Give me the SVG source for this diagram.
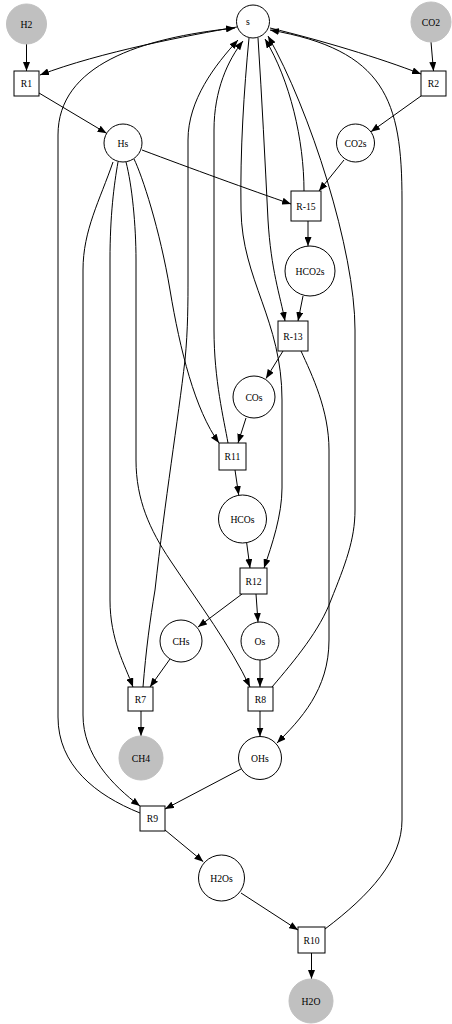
<svg xmlns="http://www.w3.org/2000/svg" width="452" height="1024" viewBox="0 0 452 1024">
  <style>
    .sp { fill: #ffffff; stroke: #000000; stroke-width: 1; }
    .ext { fill: #c0c0c0; stroke: #c0c0c0; stroke-width: 1; }
    .rx { fill: #ffffff; stroke: #000000; stroke-width: 1; }
    .lbl { font-family: "Liberation Serif", "Times New Roman", serif; font-size: 9.7px; fill: #000000; text-anchor: middle; }
    .e { fill: none; stroke: #000000; stroke-width: 1; marker-end: url(#ah); }
    .en { fill: none; stroke: #000000; stroke-width: 1; }
  </style>
  <defs>
    <marker id="ah" viewBox="0 0 9 7" refX="9" refY="3.5" markerWidth="9" markerHeight="7" markerUnits="userSpaceOnUse" orient="auto">
      <path d="M0,0 L9,3.5 L0,7 z" fill="#000000"/>
    </marker>
  </defs>
  <rect x="0" y="0" width="452" height="1024" fill="#ffffff"/>

  <!-- connectors -->
  <g id="edges">
    <path class="e" d="M26.5,44 L26.5,71"/>
    <path class="e" d="M237,27 C190,35 100,52 40,75"/>
    <path class="e" d="M39,93 L106.6,133.3"/>
    <path class="e" d="M431,42 L433.5,71"/>
    <path class="e" d="M270,28 C320,40 380,58 421,74"/>
    <path class="e" d="M421,96 L370.9,131.8"/>
    <path class="e" d="M344,160 L319,191"/>
    <path class="e" d="M142,150 C190,168 250,190 291,204"/>
    <path class="e" d="M304,191 C304,140 290,80 265,39"/>
    <path class="e" d="M308,221 L308,246"/>
    <path class="e" d="M303,296 L298,321"/>
    <path class="e" d="M258,38 C262,100 265,160 268,220 C271,270 280,295 285,321"/>
    <path class="e" d="M283,351 L266,378.5"/>
    <path class="en" d="M301,351 C312,375 329,410 329,450 L329,640"/>
    <path class="e" d="M329,640 C329,690 300,720 277,743"/>
    <path class="e" d="M246,418 L238,443"/>
    <path class="e" d="M134,159 C142,175 160,230 170,290 C180,350 195,410 219,443"/>
    <path class="e" d="M228,443 C224,420 214,380 214,330 L214,130 C214,90 228,60 243,41"/>
    <path class="e" d="M235,470 L238.7,495"/>
    <path class="e" d="M246.7,543 L250,568"/>
    <path class="e" d="M249,38 C244,90 240,150 241,210 C242,280 282,320 282,400 L282,488 C282,515 272,545 264,568"/>
    <path class="e" d="M242,594 L198,627"/>
    <path class="e" d="M256,594 L258,622"/>
    <path class="e" d="M170,659 L150,687"/>
    <path class="e" d="M118,162 C114,185 110,215 110,260 L110,600 C110,640 125,665 133,687"/>
    <path class="e" d="M143,687 C146,650 150,620 155,590 C165,500 178,420 185,360 C188,330 188,300 188,280 L188,140 C188,100 215,65 238,40"/>
    <path class="e" d="M141,711 L141,736"/>
    <path class="e" d="M260,660 L260,687"/>
    <path class="e" d="M126,162 C132,185 136,225 136,260 L136,460 C136,500 150,530 170,560 C200,605 230,645 250,687"/>
    <path class="e" d="M272,687 C295,660 320,630 331,600 C345,565 355,540 355,510 L355,330 C355,250 310,110 268,36"/>
    <path class="e" d="M260,711 L260,736.5"/>
    <path class="e" d="M241,769 L165,809"/>
    <path class="e" d="M113,162 C100,200 83,230 83,270 L83,715 C83,755 112,785 140,806"/>
    <path class="e" d="M140,813 C95,795 58,765 58,717 L58,135 C58,65 140,38 235,28"/>
    <path class="e" d="M165,830 L203.3,861.7"/>
    <path class="e" d="M241,893 L298,930"/>
    <path class="e" d="M325,929 C370,895 402,860 402,820 L402,200 C402,100 385,50 270,30"/>
    <path class="e" d="M311.5,953 L311.5,979"/>
  </g>

  <!-- species and reactions -->
  <g id="H2"><circle class="ext" cx="26.5" cy="24" r="20"/><text class="lbl" x="26.5" y="27.5">H2</text></g>
  <g id="s"><circle class="sp" cx="253" cy="21.5" r="16.5"/><text class="lbl" x="248" y="25">s</text></g>
  <g id="CO2"><circle class="ext" cx="431" cy="22" r="20"/><text class="lbl" x="431" y="25.5">CO2</text></g>
  <g id="R1"><rect class="rx" x="14" y="71" width="25" height="25"/><text class="lbl" x="26.5" y="87">R1</text></g>
  <g id="R2"><rect class="rx" x="421" y="71" width="25" height="25"/><text class="lbl" x="433.5" y="87">R2</text></g>
  <g id="Hs"><circle class="sp" cx="123" cy="143" r="19"/><text class="lbl" x="123" y="146.5">Hs</text></g>
  <g id="CO2s"><circle class="sp" cx="355.5" cy="143" r="19"/><text class="lbl" x="355.5" y="146.5">CO2s</text></g>
  <g id="R-15"><rect class="rx" x="291" y="191" width="30" height="30"/><text class="lbl" x="306" y="209.5">R-15</text></g>
  <g id="HCO2s"><circle class="sp" cx="310" cy="271" r="25"/><text class="lbl" x="310" y="274.5">HCO2s</text></g>
  <g id="R-13"><rect class="rx" x="278" y="321" width="30" height="30"/><text class="lbl" x="293" y="339.5">R-13</text></g>
  <g id="COs"><circle class="sp" cx="254" cy="397" r="21"/><text class="lbl" x="254" y="400.5">COs</text></g>
  <g id="R11"><rect class="rx" x="219" y="443" width="27" height="27"/><text class="lbl" x="232.5" y="460">R11</text></g>
  <g id="HCOs"><circle class="sp" cx="242.5" cy="519" r="24"/><text class="lbl" x="242.5" y="522.5">HCOs</text></g>
  <g id="R12"><rect class="rx" x="240" y="568" width="27" height="26"/><text class="lbl" x="253.5" y="584.5">R12</text></g>
  <g id="CHs"><circle class="sp" cx="181" cy="641" r="21"/><text class="lbl" x="181" y="644.5">CHs</text></g>
  <g id="Os"><circle class="sp" cx="260" cy="641" r="19"/><text class="lbl" x="260" y="644.5">Os</text></g>
  <g id="R7"><rect class="rx" x="128" y="687" width="25" height="24"/><text class="lbl" x="140.5" y="702.5">R7</text></g>
  <g id="R8"><rect class="rx" x="248" y="687" width="25" height="24"/><text class="lbl" x="260.5" y="702.5">R8</text></g>
  <g id="CH4"><circle class="ext" cx="141" cy="758" r="22"/><text class="lbl" x="141" y="761.5">CH4</text></g>
  <g id="OHs"><circle class="sp" cx="260" cy="758" r="21.5"/><text class="lbl" x="260" y="761.5">OHs</text></g>
  <g id="R9"><rect class="rx" x="140" y="806" width="25" height="25"/><text class="lbl" x="152.5" y="822">R9</text></g>
  <g id="H2Os"><circle class="sp" cx="221.5" cy="878" r="23"/><text class="lbl" x="221.5" y="881.5">H2Os</text></g>
  <g id="R10"><rect class="rx" x="298" y="927" width="27" height="26"/><text class="lbl" x="311.5" y="943.5">R10</text></g>
  <g id="H2O"><circle class="ext" cx="311" cy="1001" r="22"/><text class="lbl" x="311" y="1004.5">H2O</text></g>
</svg>
